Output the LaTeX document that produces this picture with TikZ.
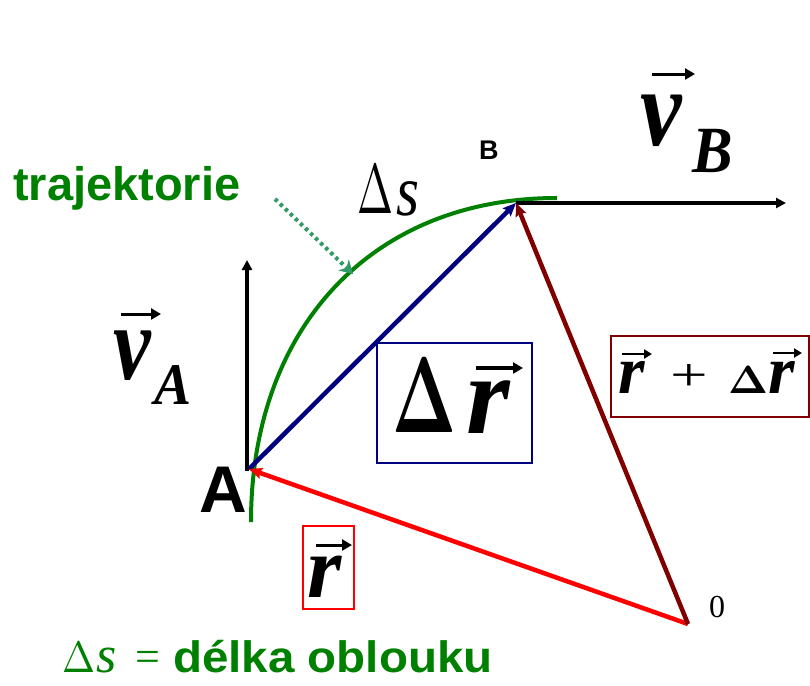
\documentclass[tikz,border=0pt]{standalone}
\usepackage[no-math]{fontspec}
\usepackage{graphicx}
\setmainfont{Liberation Serif}
\newfontfamily\arial{Liberation Sans}
\usetikzlibrary{arrows.meta}
\definecolor{dkgreen}{RGB}{0,128,0}
\definecolor{navyb}{RGB}{0,0,128}
\definecolor{dkred}{RGB}{128,0,0}
\definecolor{seagrn}{RGB}{51,153,102}
\newcommand\fs[1]{\fontsize{#1}{#1}\selectfont}
\newcommand\Dlt[2]{\scalebox{#1}[#2]{\fontsize{10}{12}\selectfont$\Delta$}}
\newcommand\DltB[2]{\scalebox{#1}[#2]{\fontsize{10}{12}\selectfont\boldmath$\Delta$}}
\begin{document}
\begin{tikzpicture}[x=1pt,y=-1pt,
  lbl/.style={inner sep=0pt, anchor=base west},
  vecline/.style={line width=4.5pt, -{Stealth[length=13pt,width=11pt,inset=2pt]}},
  velline/.style={line width=3.5pt, -{Triangle[length=10pt,width=10pt]}},
  overarrow/.style={line width=3pt, -{Triangle[length=10pt,width=11pt]}},
  smallarrow/.style={line width=2pt, -{Triangle[length=8pt,width=9pt]}},
  boxline/.style={line width=1.5pt}]
\useasboundingbox (0,0) rectangle (810,685);

% points
\coordinate (A) at (249,469);
\coordinate (B) at (516,203);
\coordinate (O) at (688,624);
\coordinate (arcS) at (251,522);
\coordinate (arcE) at (557,198);
\coordinate (vAtip) at (247,260);
\coordinate (vAbase) at (247,471);
\coordinate (vBtip) at (786,203);
\coordinate (trS) at (275,199);
\coordinate (trE) at (353,274);

% trajectory
\draw[dkgreen, line width=4pt] (arcS) .. controls (251,330) and (370,198) .. (arcE);

% velocity vectors
\draw[velline] (vAbase) -- (vAtip);
\draw[velline] (B) -- (vBtip);

% displacement vectors
\draw[vecline, navyb] (A) -- (B);
\draw[vecline, red] (O) -- (A);
\draw[vecline, dkred] (O) -- (B);

% dotted pointer
\draw[seagrn, line width=4pt, dash pattern=on 3.5pt off 3.5pt,
  -{Stealth[length=13pt,width=15pt,inset=4pt]}] (trS) -- (trE);

% labels
\node[lbl, text=dkgreen, font=\arial\bfseries\fs{47}] (traj) at (13,200) {trajektorie};
\node[lbl] (ds) at (357,213) {\Dlt{4.32}{7.03}};
\node[lbl, font=\itshape\fs{72}] (ds2) at (396,215) {\scalebox{0.82}[1]{s}};
\node[lbl, font=\arial\bfseries\fs{27}] (Blbl) at (479,159) {B};
\node[lbl, font=\arial\bfseries\fs{66}] (Albl) at (199,512) {A};

\node[lbl, font=\bfseries\itshape\fs{110}] (vB) at (640,145) {\scalebox{0.85}[1]{v}};
\node[lbl, font=\bfseries\itshape\fs{66}] (vBsub) at (692,172) {\scalebox{0.92}[1]{B}};
\draw[overarrow] (652,74) -- (695,74);

\node[lbl, font=\bfseries\itshape\fs{106}] (vA) at (113,379) {\scalebox{0.8}[1]{v}};
\node[lbl, font=\bfseries\itshape\fs{59}] (vAsub) at (154,404) {\scalebox{0.94}[1]{A}};
\draw[overarrow] (121,314) -- (161,314);

% Delta r box
\draw[navyb, boxline] (377,343) rectangle (532,463);
\node[lbl] (dD) at (392,432) {\DltB{6.68}{10.79}};
\node[lbl, font=\bfseries\itshape\fs{112}] (dr) at (466,433) {r};
\draw[overarrow, line width=3.5pt] (476,368) -- (523,368);

% r + Delta r box
\draw[dkred, boxline] (611,336) rectangle (809,417);
\node[lbl, font=\bfseries\itshape\fs{68}] (r1) at (618,393) {r};
\draw[smallarrow] (622,354) -- (652,354);
\node[inner sep=0pt, font=\fs{46}] (plus) at (689,378) {\scalebox{1.45}[1]{+}};
\node[lbl] (pD) at (728,393) {\DltB{4.18}{3.94}};
\node[lbl, font=\bfseries\itshape\fs{68}] (r2) at (768,393) {r};
\draw[smallarrow] (773,353) -- (802,353);

% r box
\draw[red, boxline] (303,526) rectangle (354,609);
\node[lbl, font=\bfseries\itshape\fs{88}] (rr) at (307,597) {r};
\draw[overarrow] (316,545) -- (352,545);

% origin
\node[lbl, font=\fs{32}] (zero) at (709,617) {0};

% bottom caption
\node[lbl, text=dkgreen] (bD) at (62,672) {\Dlt{3.96}{4.39}};
\node[lbl, text=dkgreen, font=\itshape\fs{52}] (bs) at (96,672) {s};
\node[lbl, text=dkgreen, font=\fs{44}] (beq) at (135,671) {=};
\node[lbl, text=dkgreen, font=\arial\bfseries\fs{44}] (btxt) at (173,672) {\scalebox{1.08}[1]{délka oblouku}};
\end{tikzpicture}
\end{document}
